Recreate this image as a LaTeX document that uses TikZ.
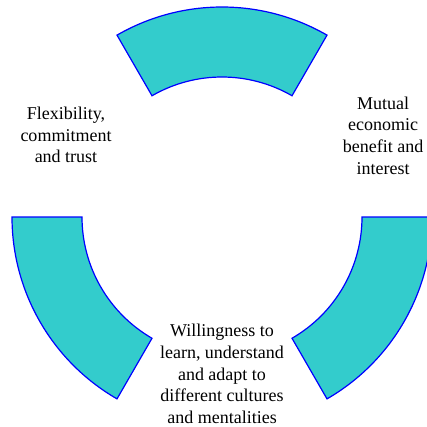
\documentclass[tikz,border=0pt]{standalone}
\usepackage{fontspec}
\setmainfont{Liberation Serif}
\usetikzlibrary{calc}
\definecolor{segfill}{HTML}{33CCCC}
\definecolor{segline}{HTML}{0000FF}
\tikzset{
  seg/.style={fill=segfill, draw=segline, line width=1.2pt, line join=miter},
  lbl/.style={align=center, font=\fontsize{18}{21.7}\selectfont, inner sep=0pt}
}
\begin{document}
\begin{tikzpicture}[x=1pt,y=1pt]
\useasboundingbox (0,0) rectangle (427,-426);
\coordinate (c) at (222,-217);
% top segment
\draw[seg] ($(c)+(60:210pt)$) arc[start angle=60, end angle=120, radius=210pt]
  -- ($(c)+(120:140pt)$) arc[start angle=120, end angle=60, radius=140pt] -- cycle;
% left segment
\draw[seg] ($(c)+(180:210pt)$) arc[start angle=180, end angle=240, radius=210pt]
  -- ($(c)+(240:140pt)$) arc[start angle=240, end angle=180, radius=140pt] -- cycle;
% right segment
\draw[seg] ($(c)+(300:210pt)$) arc[start angle=300, end angle=360, radius=210pt]
  -- ($(c)+(360:140pt)$) arc[start angle=360, end angle=300, radius=140pt] -- cycle;
\node[lbl] (flex) at (66,-135) {Flexibility,\\commitment\\and trust};
\node[lbl] (mutual) at (383,-135.5) {Mutual\\economic\\benefit and\\interest};
\node[lbl] (will) at (222,-374) {Willingness to\\learn, understand\\and adapt to\\different cultures\\and mentalities};
\end{tikzpicture}
\end{document}
